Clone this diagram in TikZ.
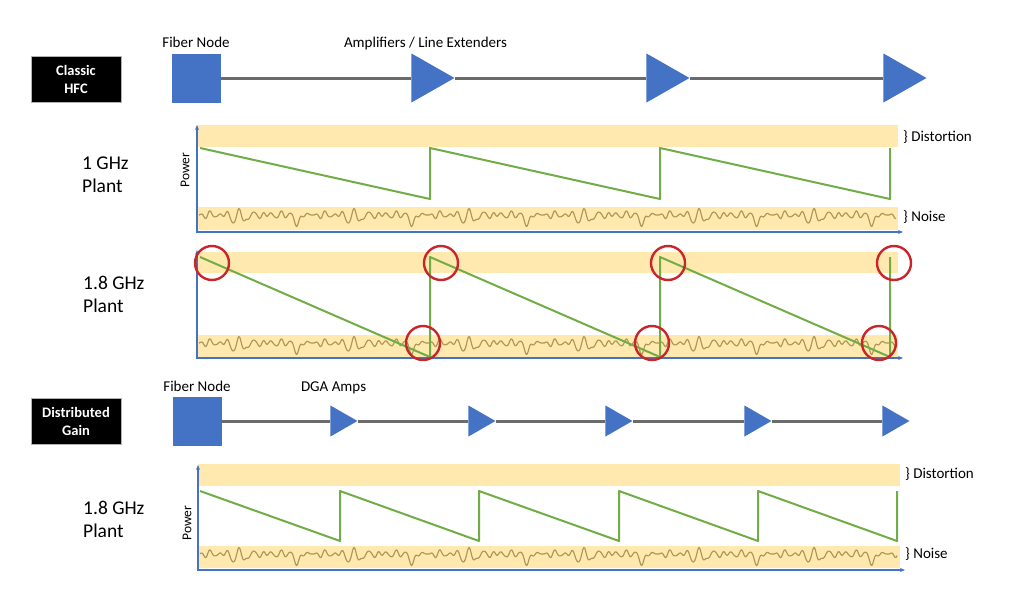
\documentclass[tikz,border=0pt]{standalone}
\usepackage{fontspec}
\setmainfont{Carlito}
\usetikzlibrary{arrows.meta, positioning, shapes.geometric}
\definecolor{ampblue}{HTML}{4472C4}
\definecolor{sawgreen}{HTML}{70AD47}
\definecolor{bandyellow}{HTML}{FFE9AF}
\definecolor{noisegold}{HTML}{AE9752}
\definecolor{linkgray}{HTML}{6B6B6B}
\definecolor{ringred}{HTML}{C8262B}

\begin{document}
\begin{tikzpicture}[
    x=1pt, y=-1pt,
    tag/.style={draw=gray!60, fill=black, text=white, font=\fontsize{14.5}{18}\selectfont\bfseries, align=center, minimum width=90pt, minimum height=46pt, inner sep=0pt},
    fnode/.style={fill=ampblue, minimum size=49pt, inner sep=0pt},
    amp/.style={isosceles triangle, isosceles triangle stretches, fill=ampblue, inner sep=0pt},
    bigamp/.style={amp, minimum width=49pt, minimum height=43pt},
    dgaamp/.style={amp, minimum width=31pt, minimum height=27pt},
    link/.style={draw=linkgray, line width=3pt},
    caption/.style={font=\fontsize{15}{18}\selectfont, inner sep=0pt},
    plant/.style={font=\fontsize{19.5}{23}\selectfont, align=left, inner sep=0pt, anchor=west},
    power/.style={font=\fontsize{13.5}{16}\selectfont, rotate=90, inner sep=0pt},
    level/.style={caption, anchor=west},
    band/.style={fill=bandyellow},
    noise/.style={draw=noisegold, line width=1.15pt, line join=round},
    saw/.style={draw=sawgreen, line width=2pt, line join=round},
    axis/.style={{Stealth[length=5pt,width=4pt]}-{Stealth[length=5pt,width=4pt]}, draw=ampblue, line width=1.8pt},
    ring/.style={draw=ringred, line width=2.4pt, circle, minimum size=34pt, inner sep=0pt},
    declare function={
        burst(\t)=pow(max(0.01,sin(6.2609*\t+30)),3);
        wiggle(\t)=8+2.2*sin(40.696*\t)+1.5*sin(25.043*\t+40)+0.8*sin(59.478*\t+70)+burst(\t)*(4+9*sin(28.174*\t));
        noise(\t)=max(1.5,min(21,wiggle(\t)));}
]
\useasboundingbox (0,0) rectangle (1020,597);

% Classic HFC
\node[tag] (hfc) at (76,79) {Classic\\HFC};
\node[fnode] (fn1) at (196,78) {};
\node[bigamp, anchor=apex] (la1) at (455,78) {};
\node[bigamp, anchor=apex] (la2) at (690,78) {};
\node[bigamp, anchor=apex] (la3) at (927,78) {};
\node[caption, above=5pt of fn1] (fnlab1) {Fiber Node};
\node[caption, base right=114pt of fnlab1] {Amplifiers / Line Extenders};

\draw[link] (fn1) -- (la1);
\draw[link] (la1.apex) -- (la2);
\draw[link] (la2.apex) -- (la3);

% 1 GHz plant
\fill[band] (197,125) rectangle (898,147);
\fill[band] (197,207) rectangle (898,230);
\draw[noise] plot[domain=199:896, samples=700] (\x, {207+noise(mod(\x,115))});
\draw[saw] (200,148) foreach \s in {430,660,890} { -- (\s,199) -- (\s,148) };
\draw[axis] (197,125) -- (197,232) -- (903,232);
\node[power] at (185,170) {Power};
\node[plant] at (82,175) {1 GHz\\Plant};
\node[level] at (903,137) {\} Distortion};
\node[level] at (903,217) {\} Noise};

% 1.8 GHz plant
\fill[band] (197,252) rectangle (898,273);
\fill[band] (197,335) rectangle (898,357);
\draw[noise] plot[domain=199:896, samples=700] (\x, {335+noise(mod(\x,115))});
\draw[saw] (200,257) foreach \s in {430,660,890} { -- (\s,357) -- (\s,257) };
\draw[axis] (197,250) -- (197,358) -- (903,358);
\node[plant] at (83,294) {1.8 GHz\\Plant};
\foreach \cx/\cy [count=\i] in {212/263, 441/263, 668/263, 894/263, 423/343, 652/343, 879/343}
    \node[ring] (ring\i) at (\cx,\cy) {};

% Distributed Gain
\node[tag] (dg) at (76,421) {Distributed\\Gain};
\node[fnode] (fn2) at (197,421) {};
\foreach \ax [count=\i] in {358,496,633,772,910}
    \node[dgaamp, anchor=apex] (dga\i) at (\ax,421) {};
\node[caption, above=5pt of fn2] (fnlab2) {Fiber Node};
\node[caption, base right=70pt of fnlab2] {DGA Amps};

\draw[link] (fn2) -- (dga1);
\foreach \i [evaluate=\i as \j using int(\i+1)] in {1,...,4}
    \draw[link] (dga\i.apex) -- (dga\j);

% 1.8 GHz plant, distributed gain
\fill[band] (198,464) rectangle (900,486);
\fill[band] (198,546) rectangle (900,568);
\draw[noise] plot[domain=200:897, samples=700] (\x, {546+noise(mod(\x,115))});
\draw[saw] (200,491) foreach \s in {340,479,619,758,897} { -- (\s,541) -- (\s,491) };
\draw[axis] (198,465) -- (198,570) -- (905,570);
\node[power] at (187,523) {Power};
\node[plant] at (83,519) {1.8 GHz\\Plant};
\node[level] at (905,474) {\} Distortion};
\node[level] at (905,554) {\} Noise};

\end{tikzpicture}
\end{document}
